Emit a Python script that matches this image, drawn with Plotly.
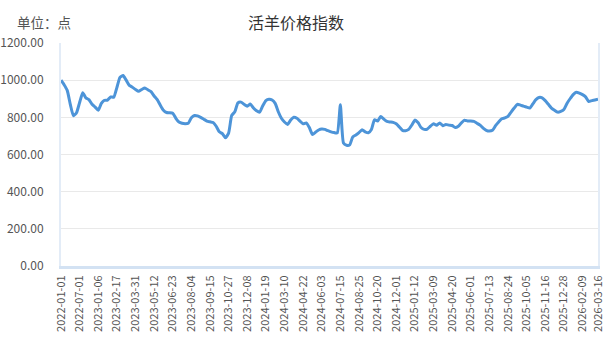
import datetime as dt
import plotly.graph_objects as go

# Visible tick labels (every 6th category, plus the final one)
tick_labels = [
    "2022-01-01", "2022-07-01", "2023-01-06", "2023-02-17", "2023-03-31", "2023-05-12",
    "2023-06-23", "2023-08-04", "2023-09-15", "2023-10-27", "2023-12-08", "2024-01-19",
    "2024-03-10", "2024-04-22", "2024-06-03", "2024-07-15", "2024-08-25", "2024-10-20",
    "2024-12-01", "2025-01-12", "2025-03-09", "2025-04-20", "2025-06-01", "2025-07-13",
    "2025-08-24", "2025-10-05", "2025-11-16", "2025-12-28", "2026-02-09", "2026-03-16",
]

# Index values (one per category, in order)
values = [
    1000, 975, 945, 870, 808, 825, 880, 932, 905, 895, 870, 855,
    838, 875, 892, 893, 910, 908, 960, 1015, 1025, 1000, 972, 962,
    950, 940, 950, 958, 948, 938, 915, 895, 865, 838, 826, 825,
    822, 795, 775, 768, 766, 768, 798, 810, 808, 800, 790, 780,
    776, 772, 752, 722, 712, 690, 715, 810, 830, 878, 882, 870,
    860, 872, 850, 835, 828, 862, 890, 897, 893, 875, 830, 795,
    775, 762, 785, 800, 795, 780, 765, 770, 745, 708, 720, 732,
    737, 735, 728, 722, 718, 716, 868, 662, 650, 652, 695, 705,
    718, 733, 722, 717, 735, 787, 780, 805, 790, 778, 775, 773,
    765, 748, 730, 728, 735, 758, 785, 772, 745, 735, 737, 752,
    766, 757, 770, 755, 762, 758, 756, 745, 752, 770, 785, 780,
    780, 778, 768, 758, 742, 730, 726, 730, 755, 775, 792, 797,
    805, 828, 850, 870, 866, 860, 855, 850, 872, 895, 907, 905,
    890, 870, 850, 838, 828, 832, 842, 875, 900, 922, 935, 930,
    922, 910, 885, 890, 893, 897,
]

# Category dates: monthly in 2022, then roughly weekly between the labelled dates
def _d(s):
    return dt.date.fromisoformat(s)

dates = [f"2022-{m:02d}-01" for m in range(1, 13)]
anchors = tick_labels[2:]
for a, b in zip(anchors[:-1], anchors[1:]):
    steps = 5 if b == anchors[-1] else 6
    da, db = _d(a), _d(b)
    span = (db - da).days
    for s in range(steps):
        dates.append((da + dt.timedelta(days=round(s * span / steps))).isoformat())
dates.append(anchors[-1])

FONT = "Noto Sans CJK SC"
LINE = "#4d94d8"

fig = go.Figure()
fig.add_trace(go.Scatter(
    x=dates, y=values, mode="lines",
    line=dict(color=LINE, width=3, shape="spline", smoothing=0.5),
    hoverinfo="x+y", showlegend=False,
))

L, R, T, B = 61, 7, 43, 75
fig.update_layout(
    width=605, height=341,
    margin=dict(l=L, r=R, t=T, b=B, autoexpand=False),
    paper_bgcolor="white", plot_bgcolor="white",
    font=dict(family=FONT, color="#555555"),
)
pw, ph = 605 - L - R, 341 - T - B
def px_to_paper(x, y):
    return (x - L) / pw, (341 - B - y) / ph
tx, ty = px_to_paper(296, 22)
ux, uy = px_to_paper(44, 22)
fig.add_annotation(text="活羊价格指数", x=tx, y=ty, xref="paper", yref="paper",
                   showarrow=False, xanchor="center", yanchor="middle",
                   font=dict(size=16, color="#333333", family=FONT))
fig.add_annotation(text="单位：点", x=ux, y=uy, xref="paper", yref="paper",
                   showarrow=False, xanchor="center", yanchor="middle",
                   font=dict(size=13.5, color="#555555", family=FONT))

fig.update_xaxes(
    type="category", range=[0, len(dates) - 1], automargin=False,
    tickmode="array", tickvals=tick_labels, ticktext=tick_labels,
    tickangle=-90, tickfont=dict(size=11, color="#555555", family=FONT),
    showgrid=False, showline=True, linecolor="#d3e2f3", linewidth=3,
    ticks="", ticklabelstandoff=2,
)
fig.update_yaxes(
    range=[0, 1200], dtick=200, tickformat=".2f", automargin=False,
    tickfont=dict(size=12, color="#555555", family=FONT),
    showgrid=True, gridcolor="#e9e9e9", gridwidth=1,
    showline=True, linecolor="#e3ecf7", linewidth=2, mirror=True,
    zeroline=False, ticks="", ticklabelstandoff=13,
)

fig.write_html("out.html")
